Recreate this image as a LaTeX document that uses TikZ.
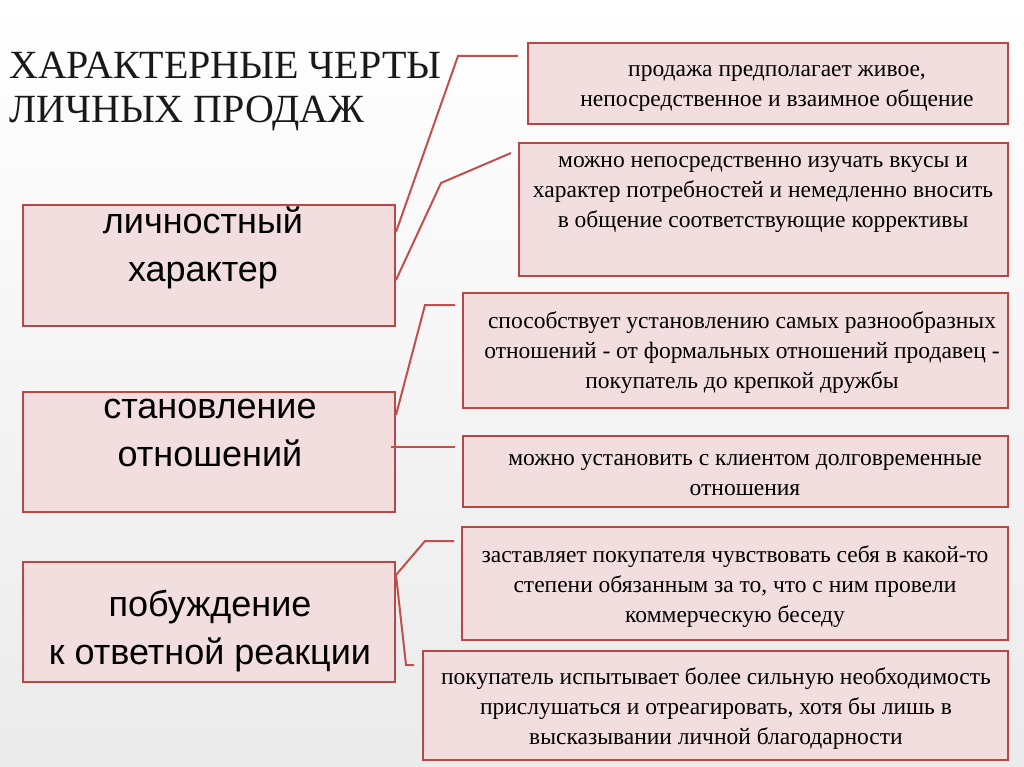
\documentclass[tikz,border=0pt]{standalone}
\usepackage{fontspec}
\setmainfont{Liberation Serif}
\newfontfamily\sansf{Liberation Sans}
\definecolor{bord}{HTML}{B84745}
\definecolor{boxf}{HTML}{F2DEDE}
\definecolor{conn}{HTML}{C0504D}
\begin{document}
\begin{tikzpicture}[x=1pt,y=-1pt,
  box/.style={draw=bord,line width=2pt,fill=boxf},
  lbl/.style={font=\sansf\fontsize{36}{48}\selectfont,align=center},
  rtxt/.style={font=\fontsize{23.5}{30}\selectfont,align=center,anchor=north},
  cn/.style={draw=conn,line width=2pt}]
\shade[top color=white,bottom color=white!92!black] (0,0) rectangle (1024,767);
\useasboundingbox (0,0) rectangle (1024,767);
\node[anchor=north west,align=left,inner sep=0pt,font=\fontsize{40}{44}\selectfont,text=black!90] (title) at (9,52) {ХАРАКТЕРНЫЕ ЧЕРТЫ\\ЛИЧНЫХ ПРОДАЖ};
% left boxes
\draw[box] (23,205) rectangle (395,326); \node[lbl] (l1) at (203,248) {личностный\\характер};
\draw[box] (23,392) rectangle (395,512); \node[lbl] (l2) at (210,433) {становление\\отношений};
\draw[box] (23,562) rectangle (395,682); \node[lbl] (l3) at (210,631) {побуждение\\к ответной реакции};
% right boxes
\draw[box] (528,43) rectangle (1008,124); \node[rtxt] (r1) at (777,62) {продажа предполагает живое,\\непосредственное и взаимное общение};
\draw[box] (519,143) rectangle (1008,276); \node[rtxt] (r2) at (763,153) {можно непосредственно изучать вкусы и\\характер потребностей и немедленно вносить\\в общение соответствующие коррективы};
\draw[box] (463,293) rectangle (1008,408); \node[rtxt] (r3) at (742,308) {способствует установлению самых разнообразных\\отношений - от формальных отношений продавец -\\покупатель до крепкой дружбы};
\draw[box] (463,436) rectangle (1008,507); \node[rtxt] (r4) at (745,451) {можно установить с клиентом долговременные\\отношения};
\draw[box] (462,527) rectangle (1008,640); \node[rtxt] (r5) at (735,542) {заставляет покупателя чувствовать себя в какой-то\\степени обязанным за то, что с ним провели\\коммерческую беседу};
\draw[box] (423,651) rectangle (1008,760); \node[rtxt] (r6) at (716,664) {покупатель испытывает более сильную необходимость\\прислушаться и отреагировать, хотя бы лишь в\\высказывании личной благодарности};
% connectors
\draw[cn] (396,232) -- (458,56) -- (518,56);
\draw[cn] (396,280) -- (441,183) -- (511,153);
\draw[cn] (396,415) -- (425,305) -- (455,305);
\draw[cn] (391,447) -- (455,447);
\draw[cn] (396,575) -- (425,541) -- (454,541);
\draw[cn] (396,575) -- (406,665) -- (414,665);
\end{tikzpicture}
\end{document}
